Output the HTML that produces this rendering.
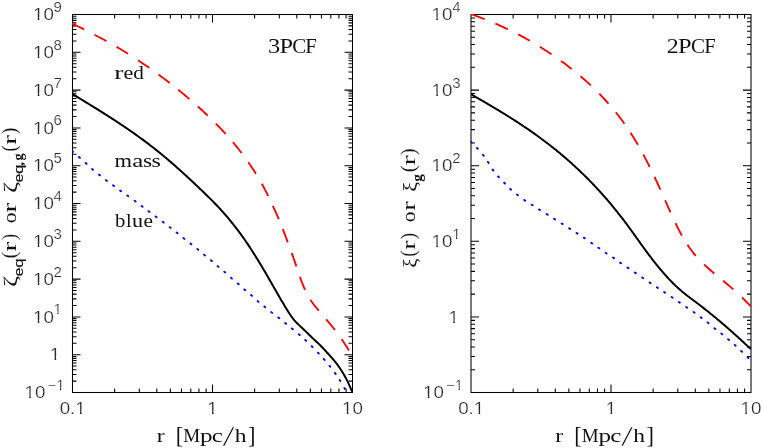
<!DOCTYPE html>
<html><head><meta charset="utf-8"><title>3PCF and 2PCF</title>
<style>html,body{margin:0;padding:0;background:#fff;}svg{display:block;will-change:transform;}text{font-kerning:none;}</style></head>
<body>
<svg width="763" height="448" viewBox="0 0 763 448">
<defs>
<clipPath id="cl"><rect x="72" y="14" width="281" height="379"/></clipPath>
<clipPath id="cr"><rect x="470.5" y="14" width="281" height="379"/></clipPath>
</defs>
<rect width="763" height="448" fill="#fff"/>
<g stroke="#000" stroke-width="1.05" fill="none" stroke-linecap="butt">
<rect x="72.5" y="14.5" width="280" height="378"/>
<path d="M114.64 392.5v-4M114.64 14.5v4M139.3 392.5v-4M139.3 14.5v4M156.79 392.5v-4M156.79 14.5v4M170.36 392.5v-4M170.36 14.5v4M181.44 392.5v-4M181.44 14.5v4M190.81 392.5v-4M190.81 14.5v4M198.93 392.5v-4M198.93 14.5v4M206.09 392.5v-4M206.09 14.5v4M212.5 392.5v-8M212.5 14.5v8M254.64 392.5v-4M254.64 14.5v4M279.3 392.5v-4M279.3 14.5v4M296.79 392.5v-4M296.79 14.5v4M310.36 392.5v-4M310.36 14.5v4M321.44 392.5v-4M321.44 14.5v4M330.81 392.5v-4M330.81 14.5v4M338.93 392.5v-4M338.93 14.5v4M346.09 392.5v-4M346.09 14.5v4M72.5 381.12h4M352.5 381.12h-4M72.5 374.46h4M352.5 374.46h-4M72.5 369.74h4M352.5 369.74h-4M72.5 366.08h4M352.5 366.08h-4M72.5 363.09h4M352.5 363.09h-4M72.5 360.56h4M352.5 360.56h-4M72.5 358.36h4M352.5 358.36h-4M72.5 356.43h4M352.5 356.43h-4M72.5 354.7h8M352.5 354.7h-8M72.5 343.32h4M352.5 343.32h-4M72.5 336.66h4M352.5 336.66h-4M72.5 331.94h4M352.5 331.94h-4M72.5 328.28h4M352.5 328.28h-4M72.5 325.29h4M352.5 325.29h-4M72.5 322.76h4M352.5 322.76h-4M72.5 320.56h4M352.5 320.56h-4M72.5 318.63h4M352.5 318.63h-4M72.5 316.9h8M352.5 316.9h-8M72.5 305.52h4M352.5 305.52h-4M72.5 298.86h4M352.5 298.86h-4M72.5 294.14h4M352.5 294.14h-4M72.5 290.48h4M352.5 290.48h-4M72.5 287.49h4M352.5 287.49h-4M72.5 284.96h4M352.5 284.96h-4M72.5 282.76h4M352.5 282.76h-4M72.5 280.83h4M352.5 280.83h-4M72.5 279.1h8M352.5 279.1h-8M72.5 267.72h4M352.5 267.72h-4M72.5 261.06h4M352.5 261.06h-4M72.5 256.34h4M352.5 256.34h-4M72.5 252.68h4M352.5 252.68h-4M72.5 249.69h4M352.5 249.69h-4M72.5 247.16h4M352.5 247.16h-4M72.5 244.96h4M352.5 244.96h-4M72.5 243.03h4M352.5 243.03h-4M72.5 241.3h8M352.5 241.3h-8M72.5 229.92h4M352.5 229.92h-4M72.5 223.26h4M352.5 223.26h-4M72.5 218.54h4M352.5 218.54h-4M72.5 214.88h4M352.5 214.88h-4M72.5 211.89h4M352.5 211.89h-4M72.5 209.36h4M352.5 209.36h-4M72.5 207.16h4M352.5 207.16h-4M72.5 205.23h4M352.5 205.23h-4M72.5 203.5h8M352.5 203.5h-8M72.5 192.12h4M352.5 192.12h-4M72.5 185.46h4M352.5 185.46h-4M72.5 180.74h4M352.5 180.74h-4M72.5 177.08h4M352.5 177.08h-4M72.5 174.09h4M352.5 174.09h-4M72.5 171.56h4M352.5 171.56h-4M72.5 169.36h4M352.5 169.36h-4M72.5 167.43h4M352.5 167.43h-4M72.5 165.7h8M352.5 165.7h-8M72.5 154.32h4M352.5 154.32h-4M72.5 147.66h4M352.5 147.66h-4M72.5 142.94h4M352.5 142.94h-4M72.5 139.28h4M352.5 139.28h-4M72.5 136.29h4M352.5 136.29h-4M72.5 133.76h4M352.5 133.76h-4M72.5 131.56h4M352.5 131.56h-4M72.5 129.63h4M352.5 129.63h-4M72.5 127.9h8M352.5 127.9h-8M72.5 116.52h4M352.5 116.52h-4M72.5 109.86h4M352.5 109.86h-4M72.5 105.14h4M352.5 105.14h-4M72.5 101.48h4M352.5 101.48h-4M72.5 98.49h4M352.5 98.49h-4M72.5 95.96h4M352.5 95.96h-4M72.5 93.76h4M352.5 93.76h-4M72.5 91.83h4M352.5 91.83h-4M72.5 90.1h8M352.5 90.1h-8M72.5 78.72h4M352.5 78.72h-4M72.5 72.06h4M352.5 72.06h-4M72.5 67.34h4M352.5 67.34h-4M72.5 63.68h4M352.5 63.68h-4M72.5 60.69h4M352.5 60.69h-4M72.5 58.16h4M352.5 58.16h-4M72.5 55.96h4M352.5 55.96h-4M72.5 54.03h4M352.5 54.03h-4M72.5 52.3h8M352.5 52.3h-8M72.5 40.92h4M352.5 40.92h-4M72.5 34.26h4M352.5 34.26h-4M72.5 29.54h4M352.5 29.54h-4M72.5 25.88h4M352.5 25.88h-4M72.5 22.89h4M352.5 22.89h-4M72.5 20.36h4M352.5 20.36h-4M72.5 18.16h4M352.5 18.16h-4M72.5 16.23h4M352.5 16.23h-4"/>
</g>
<g stroke="#000" stroke-width="1.05" fill="none" stroke-linecap="butt">
<rect x="471" y="14.5" width="280" height="378"/>
<path d="M513.14 392.5v-4M513.14 14.5v4M537.8 392.5v-4M537.8 14.5v4M555.29 392.5v-4M555.29 14.5v4M568.86 392.5v-4M568.86 14.5v4M579.94 392.5v-4M579.94 14.5v4M589.31 392.5v-4M589.31 14.5v4M597.43 392.5v-4M597.43 14.5v4M604.59 392.5v-4M604.59 14.5v4M611 392.5v-8M611 14.5v8M653.14 392.5v-4M653.14 14.5v4M677.8 392.5v-4M677.8 14.5v4M695.29 392.5v-4M695.29 14.5v4M708.86 392.5v-4M708.86 14.5v4M719.94 392.5v-4M719.94 14.5v4M729.31 392.5v-4M729.31 14.5v4M737.43 392.5v-4M737.43 14.5v4M744.59 392.5v-4M744.59 14.5v4M471 369.74h4M751 369.74h-4M471 356.43h4M751 356.43h-4M471 346.98h4M751 346.98h-4M471 339.66h4M751 339.66h-4M471 333.67h4M751 333.67h-4M471 328.61h4M751 328.61h-4M471 324.23h4M751 324.23h-4M471 320.36h4M751 320.36h-4M471 316.9h8M751 316.9h-8M471 294.14h4M751 294.14h-4M471 280.83h4M751 280.83h-4M471 271.38h4M751 271.38h-4M471 264.06h4M751 264.06h-4M471 258.07h4M751 258.07h-4M471 253.01h4M751 253.01h-4M471 248.63h4M751 248.63h-4M471 244.76h4M751 244.76h-4M471 241.3h8M751 241.3h-8M471 218.54h4M751 218.54h-4M471 205.23h4M751 205.23h-4M471 195.78h4M751 195.78h-4M471 188.46h4M751 188.46h-4M471 182.47h4M751 182.47h-4M471 177.41h4M751 177.41h-4M471 173.03h4M751 173.03h-4M471 169.16h4M751 169.16h-4M471 165.7h8M751 165.7h-8M471 142.94h4M751 142.94h-4M471 129.63h4M751 129.63h-4M471 120.18h4M751 120.18h-4M471 112.86h4M751 112.86h-4M471 106.87h4M751 106.87h-4M471 101.81h4M751 101.81h-4M471 97.43h4M751 97.43h-4M471 93.56h4M751 93.56h-4M471 90.1h8M751 90.1h-8M471 67.34h4M751 67.34h-4M471 54.03h4M751 54.03h-4M471 44.58h4M751 44.58h-4M471 37.26h4M751 37.26h-4M471 31.27h4M751 31.27h-4M471 26.21h4M751 26.21h-4M471 21.83h4M751 21.83h-4M471 17.96h4M751 17.96h-4"/>
</g>
<path d="M72.17 150.98L73.03 151.82M78.96 156.99L79.84 157.81M85.65 163L86.55 163.8M92.04 169.02L92.96 169.78M99.03 174.63L99.97 175.37M105.92 180.14L106.88 180.86M113.02 185.34L113.98 186.06M120.12 190.45L121.08 191.15M127.31 195.55L128.29 196.25M134.61 200.75L135.59 201.45M141.62 205.95L142.58 206.65M148.52 211.14L149.48 211.86M155.62 216.44L156.58 217.16M162.72 221.84L163.68 222.56M169.72 227.13L170.68 227.87M176.63 232.53L177.57 233.27M183.43 238.13L184.37 238.87M190.43 243.52L191.37 244.28M197.34 249.02L198.26 249.78M204.04 254.72L204.96 255.48M210.94 260.31L211.86 261.09M217.65 266.11L218.55 266.89M224.35 271.71L225.25 272.49M231.05 277.8L231.95 278.6M237.75 283.5L238.65 284.3M244.35 289.41L245.25 290.19M251.04 295.01L251.96 295.79M257.64 301.12L258.56 301.88M264.34 306.52L265.26 307.28M271.23 312.12L272.17 312.88M278.33 317.42L279.27 318.18M285.13 323.02L286.07 323.78M291.94 328.42L292.86 329.18M298.74 334.31L299.66 335.09M305.26 340L306.14 340.8M311.67 346.18L312.53 347.02M317.99 352.66L318.81 353.54M323.81 359.05L324.59 359.95M329.53 365.73L330.27 366.67M334.95 372.91L335.65 373.89M339.68 379.99L340.32 381.01M344.4 387.98L345 389.02" fill="none" stroke="#00f" stroke-width="1.9" stroke-linecap="round" clip-path="url(#cl)"/>
<path d="M72 23.41L74.42 24.6L76.84 25.79L79.26 26.99L81.68 28.2L84.1 29.41M94.5 34.73L96.88 35.98L99.26 37.24L101.64 38.51L104.02 39.8L106.4 41.1M116.6 46.87L118.88 48.2L121.16 49.55L123.44 50.92L125.72 52.31L128 53.73M138 60.16L140.24 61.65L142.48 63.17L144.72 64.7L146.96 66.25L149.2 67.82M158.5 74.54L160.74 76.2L162.98 77.88L165.22 79.58L167.46 81.29L169.7 83.03M178.2 89.76L180.42 91.56L182.64 93.38L184.86 95.23L187.08 97.1L189.3 98.99M197.8 106.45L199.78 108.24L201.76 110.05L203.74 111.89L205.72 113.75L207.7 115.64M215.8 123.6L217.78 125.61L219.76 127.66L221.74 129.73L223.72 131.84L225.7 133.99M232.9 142.17L234.64 144.25L236.38 146.37L238.12 148.53L239.86 150.73L241.6 152.99M248.4 162.3L249.9 164.47L251.4 166.68L252.9 168.95L254.4 171.28L255.9 173.66M261.8 183.7L263.08 186.04L264.36 188.44L265.64 190.9L266.92 193.43L268.2 196.03M272.8 205.8L274 208.38L275.2 210.97L276.4 213.6L277.6 216.29L278.8 219.07M282.8 229.04L283.8 231.66L284.8 234.31L285.8 236.99L286.8 239.68L287.8 242.38M291.7 252.98L292.64 255.58L293.58 258.22L294.52 260.89L295.46 263.61L296.4 266.38M299.9 276.81L300.94 279.73L301.98 282.51L303.02 285.15L304.06 287.63L305.1 289.97M310.4 299.7L312.08 302.19L313.76 304.48L315.44 306.61L317.12 308.64L318.8 310.61M326.2 319.29L327.94 321.36L329.68 323.47L331.42 325.61L333.16 327.79L334.9 330.02M341.6 339.15L343.06 341.29L344.52 343.48L345.98 345.73L347.44 348.04L348.9 350.43" fill="none" stroke="#f00" stroke-width="1.85" stroke-linecap="butt" clip-path="url(#cl)"/>
<path d="M72.4 94L73.4 94.61L74.4 95.22L75.4 95.83L76.4 96.44L77.4 97.05L78.4 97.65L79.4 98.26L80.4 98.87L81.4 99.48L82.4 100.09L83.4 100.7L84.4 101.31L85.4 101.92L86.4 102.53L87.4 103.14L88.4 103.76L89.4 104.37L90.4 104.98L91.4 105.6L92.4 106.21L93.4 106.83L94.4 107.45L95.4 108.07L96.4 108.69L97.4 109.31L98.4 109.93L99.4 110.55L100.4 111.18L101.4 111.8L102.4 112.43L103.4 113.06L104.4 113.69L105.4 114.32L106.4 114.96L107.4 115.6L108.4 116.23L109.4 116.87L110.4 117.51L111.4 118.16L112.4 118.8L113.4 119.45L114.4 120.1L115.4 120.75L116.4 121.41L117.4 122.07L118.4 122.73L119.4 123.39L120.4 124.05L121.4 124.72L122.4 125.39L123.4 126.06L124.4 126.74L125.4 127.41L126.4 128.09L127.4 128.78L128.4 129.46L129.4 130.15L130.4 130.85L131.4 131.54L132.4 132.24L133.4 132.94L134.4 133.65L135.4 134.36L136.4 135.07L137.4 135.79L138.4 136.51L139.4 137.23L140.4 137.96L141.4 138.69L142.4 139.42L143.4 140.16L144.4 140.91L145.4 141.65L146.4 142.4L147.4 143.16L148.4 143.92L149.4 144.68L150.4 145.45L151.4 146.22L152.4 146.99L153.4 147.77L154.4 148.56L155.4 149.35L156.4 150.14L157.4 150.94L158.4 151.75L159.4 152.55L160.4 153.37L161.4 154.19L162.4 155.01L163.4 155.84L164.4 156.67L165.4 157.51L166.4 158.35L167.4 159.19L168.4 160.04L169.4 160.9L170.4 161.76L171.4 162.62L172.4 163.49L173.4 164.36L174.4 165.24L175.4 166.11L176.4 167L177.4 167.89L178.4 168.78L179.4 169.67L180.4 170.57L181.4 171.47L182.4 172.38L183.4 173.28L184.4 174.2L185.4 175.11L186.4 176.03L187.4 176.95L188.4 177.87L189.4 178.8L190.4 179.73L191.4 180.67L192.4 181.6L193.4 182.54L194.4 183.48L195.4 184.42L196.4 185.37L197.4 186.32L198.4 187.27L199.4 188.22L200.4 189.18L201.4 190.13L202.4 191.09L203.4 192.06L204.4 193.02L205.4 193.99L206.4 194.96L207.4 195.94L208.4 196.92L209.4 197.91L210.4 198.9L211.4 199.9L212.4 200.9L213.4 201.92L214.4 202.94L215.4 203.97L216.4 205.01L217.4 206.06L218.4 207.12L219.4 208.19L220.4 209.27L221.4 210.37L222.4 211.47L223.4 212.59L224.4 213.72L225.4 214.87L226.4 216.02L227.4 217.19L228.4 218.38L229.4 219.57L230.4 220.79L231.4 222.01L232.4 223.25L233.4 224.5L234.4 225.77L235.4 227.06L236.4 228.35L237.4 229.67L238.4 231L239.4 232.34L240.4 233.7L241.4 235.08L242.4 236.47L243.4 237.87L244.4 239.3L245.4 240.74L246.4 242.2L247.4 243.67L248.4 245.16L249.4 246.67L250.4 248.19L251.4 249.72L252.4 251.27L253.4 252.84L254.4 254.42L255.4 256.01L256.4 257.62L257.4 259.23L258.4 260.86L259.4 262.5L260.4 264.16L261.4 265.82L262.4 267.49L263.4 269.18L264.4 270.87L265.4 272.57L266.4 274.28L267.4 276L268.4 277.73L269.4 279.46L270.4 281.2L271.4 282.95L272.4 284.69L273.4 286.44L274.4 288.2L275.4 289.95L276.4 291.7L277.4 293.45L278.4 295.19L279.4 296.93L280.4 298.66L281.4 300.38L282.4 302.09L283.4 303.79L284.4 305.47L285.4 307.14L286.4 308.78L287.4 310.4L288.4 311.98L289.4 313.52L290.4 315.02L291.4 316.47L292.4 317.86L293.4 319.17L294.4 320.4L295.4 321.5L296.4 322.52L297.4 323.48L298.4 324.44L299.4 325.4L300.4 326.35L301.4 327.31L302.4 328.27L303.4 329.23L304.4 330.19L305.4 331.15L306.4 332.12L307.4 333.09L308.4 334.06L309.4 335.03L310.4 336L311.4 336.96L312.4 337.92L313.4 338.88L314.4 339.82L315.4 340.75L316.4 341.67L317.4 342.6L318.4 343.54L319.4 344.51L320.4 345.51L321.4 346.53L322.4 347.56L323.4 348.62L324.4 349.69L325.4 350.77L326.4 351.86L327.4 352.95L328.4 354.04L329.4 355.13L330.4 356.24L331.4 357.36L332.4 358.5L333.4 359.66L334.4 360.86L335.4 362.11L336.4 363.39L337.4 364.72L338.4 366.09L339.4 367.5L340.4 368.97L341.4 370.49L342.4 372.07L343.4 373.72L344.4 375.44L345.4 377.24L346.4 379.13L347.4 381.11L348.4 383.18L349.4 385.32L350.4 387.54L351.4 389.82L352.15 391.56" fill="none" stroke="#000" stroke-width="2" stroke-linejoin="round" clip-path="url(#cl)"/>
<path d="M470.84 141.62L471.76 142.38M477 147.95L477.8 148.85M483.05 154.82L483.75 155.78M487.97 161.9L488.63 162.9M492.65 169.61L493.35 170.59M498.11 176.44L498.89 177.36M504.18 182.77L505.02 183.63M510.15 188.9L511.05 189.7M516.92 194.53L517.88 195.27M524.2 199.96L525.2 200.64M531.69 204.68L532.71 205.32M538.99 209.38L540.01 210.02M546.69 214.09L547.71 214.71M553.99 218.79L555.01 219.41M561.69 223.48L562.71 224.12M569.1 228.28L570.1 228.92M576.5 232.97L577.5 233.63M583.8 237.66L584.8 238.34M591.2 242.76L592.2 243.44M598.31 247.66L599.29 248.34M605.6 252.76L606.6 253.44M613 257.46L614 258.14M620.1 262.66L621.1 263.34M627.5 267.47L628.5 268.13M634.8 272.47L635.8 273.13M642.2 277.57L643.2 278.23M649.6 282.47L650.6 283.13M656.9 287.27L657.9 287.93M664.1 292.06L665.1 292.74M671.6 297.06L672.6 297.74M678.8 301.96L679.8 302.64M686.21 307.06L687.19 307.74M693.61 312.05L694.59 312.75M700.72 317.35L701.68 318.05M707.62 322.44L708.58 323.16M714.43 328.23L715.37 328.97M721.34 333.51L722.26 334.29M728.05 339.31L728.95 340.09M734.76 344.9L735.64 345.7M741.16 350.99L742.04 351.81M747.57 357.28L748.43 358.12" fill="none" stroke="#00f" stroke-width="1.9" stroke-linecap="round" clip-path="url(#cr)"/>
<path d="M471.3 14.23L473.98 15.19L476.66 16.17L479.34 17.17L482.02 18.19L484.7 19.24M495.4 23.65L497.88 24.72L500.36 25.82L502.84 26.95L505.32 28.09L507.8 29.26M518.2 34.44L520.52 35.65L522.84 36.89L525.16 38.15L527.48 39.44L529.8 40.75M539.9 46.74L542.22 48.19L544.54 49.66L546.86 51.16L549.18 52.69L551.5 54.24M561 60.91L563.16 62.49L565.32 64.1L567.48 65.73L569.64 67.4L571.8 69.09M580.5 76.19L582.56 77.95L584.62 79.74L586.68 81.57L588.74 83.44L590.8 85.34M599.3 93.67L601.14 95.57L602.98 97.52L604.82 99.5L606.66 101.53L608.5 103.6M615.8 112.29L617.52 114.46L619.24 116.68L620.96 118.96L622.68 121.29L624.4 123.68M630.5 132.68L631.98 134.99L633.46 137.35L634.94 139.77L636.42 142.25L637.9 144.78M643.3 154.52L644.58 156.93L645.86 159.39L647.14 161.88L648.42 164.41L649.7 166.97M654.5 176.9L655.68 179.41L656.86 181.95L658.04 184.51L659.22 187.09L660.4 189.7M665.1 200.26L666.18 202.7L667.26 205.14L668.34 207.57L669.42 209.99L670.5 212.39M675.5 223.16L676.78 225.79L678.06 228.37L679.34 230.87L680.62 233.29L681.9 235.63M687.5 244.82L689.16 247.25L690.82 249.55L692.48 251.75L694.14 253.83L695.8 255.82M704.1 264.51L706.14 266.41L708.18 268.23L710.22 270.01L712.26 271.74L714.3 273.45M723.2 280.81L725.22 282.49L727.24 284.18L729.26 285.9L731.28 287.63L733.3 289.39M742 297.4L743.8 299.17L745.6 300.98L747.4 302.83L749.2 304.74L751 306.7" fill="none" stroke="#f00" stroke-width="1.85" stroke-linecap="butt" clip-path="url(#cr)"/>
<path d="M471.3 94.4L472.3 94.97L473.3 95.55L474.3 96.13L475.3 96.7L476.3 97.28L477.3 97.86L478.3 98.44L479.3 99.01L480.3 99.59L481.3 100.17L482.3 100.76L483.3 101.34L484.3 101.92L485.3 102.51L486.3 103.09L487.3 103.68L488.3 104.27L489.3 104.85L490.3 105.44L491.3 106.04L492.3 106.63L493.3 107.22L494.3 107.82L495.3 108.42L496.3 109.02L497.3 109.62L498.3 110.22L499.3 110.83L500.3 111.43L501.3 112.04L502.3 112.65L503.3 113.27L504.3 113.88L505.3 114.5L506.3 115.12L507.3 115.74L508.3 116.36L509.3 116.99L510.3 117.62L511.3 118.25L512.3 118.89L513.3 119.52L514.3 120.16L515.3 120.8L516.3 121.45L517.3 122.1L518.3 122.75L519.3 123.4L520.3 124.06L521.3 124.72L522.3 125.39L523.3 126.05L524.3 126.72L525.3 127.4L526.3 128.08L527.3 128.76L528.3 129.44L529.3 130.13L530.3 130.82L531.3 131.52L532.3 132.22L533.3 132.92L534.3 133.63L535.3 134.34L536.3 135.05L537.3 135.77L538.3 136.5L539.3 137.23L540.3 137.96L541.3 138.69L542.3 139.43L543.3 140.18L544.3 140.93L545.3 141.68L546.3 142.44L547.3 143.21L548.3 143.98L549.3 144.75L550.3 145.53L551.3 146.31L552.3 147.1L553.3 147.89L554.3 148.69L555.3 149.5L556.3 150.3L557.3 151.12L558.3 151.94L559.3 152.76L560.3 153.59L561.3 154.43L562.3 155.27L563.3 156.12L564.3 156.97L565.3 157.83L566.3 158.7L567.3 159.57L568.3 160.44L569.3 161.33L570.3 162.21L571.3 163.11L572.3 164.01L573.3 164.92L574.3 165.83L575.3 166.75L576.3 167.68L577.3 168.61L578.3 169.55L579.3 170.5L580.3 171.45L581.3 172.41L582.3 173.37L583.3 174.35L584.3 175.33L585.3 176.31L586.3 177.31L587.3 178.31L588.3 179.32L589.3 180.33L590.3 181.36L591.3 182.39L592.3 183.42L593.3 184.47L594.3 185.52L595.3 186.58L596.3 187.65L597.3 188.73L598.3 189.81L599.3 190.9L600.3 192L601.3 193.11L602.3 194.22L603.3 195.35L604.3 196.48L605.3 197.62L606.3 198.77L607.3 199.93L608.3 201.1L609.3 202.27L610.3 203.46L611.3 204.65L612.3 205.85L613.3 207.06L614.3 208.28L615.3 209.51L616.3 210.75L617.3 212L618.3 213.26L619.3 214.53L620.3 215.81L621.3 217.09L622.3 218.39L623.3 219.7L624.3 221.01L625.3 222.34L626.3 223.68L627.3 225.02L628.3 226.38L629.3 227.75L630.3 229.12L631.3 230.5L632.3 231.89L633.3 233.29L634.3 234.68L635.3 236.08L636.3 237.48L637.3 238.89L638.3 240.29L639.3 241.69L640.3 243.08L641.3 244.48L642.3 245.87L643.3 247.25L644.3 248.63L645.3 249.99L646.3 251.35L647.3 252.7L648.3 254.04L649.3 255.37L650.3 256.69L651.3 258L652.3 259.29L653.3 260.58L654.3 261.86L655.3 263.12L656.3 264.37L657.3 265.61L658.3 266.83L659.3 268.04L660.3 269.24L661.3 270.43L662.3 271.6L663.3 272.76L664.3 273.9L665.3 275.03L666.3 276.14L667.3 277.24L668.3 278.32L669.3 279.39L670.3 280.44L671.3 281.47L672.3 282.49L673.3 283.49L674.3 284.47L675.3 285.44L676.3 286.39L677.3 287.32L678.3 288.23L679.3 289.12L680.3 289.99L681.3 290.85L682.3 291.69L683.3 292.51L684.3 293.32L685.3 294.12L686.3 294.91L687.3 295.69L688.3 296.46L689.3 297.22L690.3 297.98L691.3 298.73L692.3 299.48L693.3 300.23L694.3 300.98L695.3 301.73L696.3 302.48L697.3 303.24L698.3 304L699.3 304.76L700.3 305.53L701.3 306.3L702.3 307.08L703.3 307.86L704.3 308.64L705.3 309.43L706.3 310.22L707.3 311.02L708.3 311.81L709.3 312.62L710.3 313.42L711.3 314.23L712.3 315.05L713.3 315.87L714.3 316.69L715.3 317.51L716.3 318.34L717.3 319.17L718.3 320.01L719.3 320.85L720.3 321.69L721.3 322.54L722.3 323.39L723.3 324.25L724.3 325.1L725.3 325.97L726.3 326.83L727.3 327.7L728.3 328.57L729.3 329.45L730.3 330.33L731.3 331.21L732.3 332.1L733.3 332.99L734.3 333.88L735.3 334.78L736.3 335.68L737.3 336.58L738.3 337.49L739.3 338.4L740.3 339.31L741.3 340.23L742.3 341.15L743.3 342.08L744.3 343L745.3 343.93L746.3 344.87L747.3 345.81L748.3 346.75L749.3 347.69L750.3 348.64L750.8 349.11" fill="none" stroke="#000" stroke-width="2" stroke-linejoin="round" clip-path="url(#cr)"/>
<text transform="translate(47.4 389.9) scale(1.090 1)" font-size="13.8" font-family="Liberation Sans, sans-serif" fill="#2b2b2b" clip-path="url(#k0)" stroke="#fff" stroke-width="0.22">−1</text>
<text transform="translate(24.48 398.2) scale(1.090 1)" font-size="17.2" font-family="Liberation Sans, sans-serif" fill="#2b2b2b" clip-path="url(#k1)" stroke="#fff" stroke-width="0.22">10</text>
<text transform="translate(49.83 360.4) scale(1.090 1)" font-size="17.2" font-family="Liberation Sans, sans-serif" fill="#2b2b2b" clip-path="url(#k2)" stroke="#fff" stroke-width="0.22">1</text>
<text transform="translate(53.6 314.3) scale(1.090 1)" font-size="13.8" font-family="Liberation Sans, sans-serif" fill="#2b2b2b" clip-path="url(#k3)" stroke="#fff" stroke-width="0.22">1</text>
<text transform="translate(32.98 322.6) scale(1.090 1)" font-size="17.2" font-family="Liberation Sans, sans-serif" fill="#2b2b2b" clip-path="url(#k1)" stroke="#fff" stroke-width="0.22">10</text>
<text transform="translate(53.6 276.5) scale(1.090 1)" font-size="13.8" font-family="Liberation Sans, sans-serif" fill="#2b2b2b" stroke="#fff" stroke-width="0.22">2</text>
<text transform="translate(32.98 284.8) scale(1.090 1)" font-size="17.2" font-family="Liberation Sans, sans-serif" fill="#2b2b2b" clip-path="url(#k1)" stroke="#fff" stroke-width="0.22">10</text>
<text transform="translate(53.6 238.7) scale(1.090 1)" font-size="13.8" font-family="Liberation Sans, sans-serif" fill="#2b2b2b" stroke="#fff" stroke-width="0.22">3</text>
<text transform="translate(32.98 247) scale(1.090 1)" font-size="17.2" font-family="Liberation Sans, sans-serif" fill="#2b2b2b" clip-path="url(#k1)" stroke="#fff" stroke-width="0.22">10</text>
<text transform="translate(53.6 200.9) scale(1.090 1)" font-size="13.8" font-family="Liberation Sans, sans-serif" fill="#2b2b2b" stroke="#fff" stroke-width="0.22">4</text>
<text transform="translate(32.98 209.2) scale(1.090 1)" font-size="17.2" font-family="Liberation Sans, sans-serif" fill="#2b2b2b" clip-path="url(#k1)" stroke="#fff" stroke-width="0.22">10</text>
<text transform="translate(53.6 163.1) scale(1.090 1)" font-size="13.8" font-family="Liberation Sans, sans-serif" fill="#2b2b2b" stroke="#fff" stroke-width="0.22">5</text>
<text transform="translate(32.98 171.4) scale(1.090 1)" font-size="17.2" font-family="Liberation Sans, sans-serif" fill="#2b2b2b" clip-path="url(#k1)" stroke="#fff" stroke-width="0.22">10</text>
<text transform="translate(53.6 125.3) scale(1.090 1)" font-size="13.8" font-family="Liberation Sans, sans-serif" fill="#2b2b2b" stroke="#fff" stroke-width="0.22">6</text>
<text transform="translate(32.98 133.6) scale(1.090 1)" font-size="17.2" font-family="Liberation Sans, sans-serif" fill="#2b2b2b" clip-path="url(#k1)" stroke="#fff" stroke-width="0.22">10</text>
<text transform="translate(53.6 87.5) scale(1.090 1)" font-size="13.8" font-family="Liberation Sans, sans-serif" fill="#2b2b2b" stroke="#fff" stroke-width="0.22">7</text>
<text transform="translate(32.98 95.8) scale(1.090 1)" font-size="17.2" font-family="Liberation Sans, sans-serif" fill="#2b2b2b" clip-path="url(#k1)" stroke="#fff" stroke-width="0.22">10</text>
<text transform="translate(53.6 49.7) scale(1.090 1)" font-size="13.8" font-family="Liberation Sans, sans-serif" fill="#2b2b2b" stroke="#fff" stroke-width="0.22">8</text>
<text transform="translate(32.98 58) scale(1.090 1)" font-size="17.2" font-family="Liberation Sans, sans-serif" fill="#2b2b2b" clip-path="url(#k1)" stroke="#fff" stroke-width="0.22">10</text>
<text transform="translate(53.6 11.9) scale(1.090 1)" font-size="13.8" font-family="Liberation Sans, sans-serif" fill="#2b2b2b" stroke="#fff" stroke-width="0.22">9</text>
<text transform="translate(32.98 20.2) scale(1.090 1)" font-size="17.2" font-family="Liberation Sans, sans-serif" fill="#2b2b2b" clip-path="url(#k1)" stroke="#fff" stroke-width="0.22">10</text>
<text transform="translate(446 389.9) scale(1.090 1)" font-size="13.8" font-family="Liberation Sans, sans-serif" fill="#2b2b2b" clip-path="url(#k0)" stroke="#fff" stroke-width="0.22">−1</text>
<text transform="translate(423.08 398.2) scale(1.090 1)" font-size="17.2" font-family="Liberation Sans, sans-serif" fill="#2b2b2b" clip-path="url(#k1)" stroke="#fff" stroke-width="0.22">10</text>
<text transform="translate(448.43 322.6) scale(1.090 1)" font-size="17.2" font-family="Liberation Sans, sans-serif" fill="#2b2b2b" clip-path="url(#k2)" stroke="#fff" stroke-width="0.22">1</text>
<text transform="translate(452.2 238.7) scale(1.090 1)" font-size="13.8" font-family="Liberation Sans, sans-serif" fill="#2b2b2b" clip-path="url(#k3)" stroke="#fff" stroke-width="0.22">1</text>
<text transform="translate(431.58 247) scale(1.090 1)" font-size="17.2" font-family="Liberation Sans, sans-serif" fill="#2b2b2b" clip-path="url(#k1)" stroke="#fff" stroke-width="0.22">10</text>
<text transform="translate(452.2 163.1) scale(1.090 1)" font-size="13.8" font-family="Liberation Sans, sans-serif" fill="#2b2b2b" stroke="#fff" stroke-width="0.22">2</text>
<text transform="translate(431.58 171.4) scale(1.090 1)" font-size="17.2" font-family="Liberation Sans, sans-serif" fill="#2b2b2b" clip-path="url(#k1)" stroke="#fff" stroke-width="0.22">10</text>
<text transform="translate(452.2 87.5) scale(1.090 1)" font-size="13.8" font-family="Liberation Sans, sans-serif" fill="#2b2b2b" stroke="#fff" stroke-width="0.22">3</text>
<text transform="translate(431.58 95.8) scale(1.090 1)" font-size="17.2" font-family="Liberation Sans, sans-serif" fill="#2b2b2b" clip-path="url(#k1)" stroke="#fff" stroke-width="0.22">10</text>
<text transform="translate(452.2 11.9) scale(1.090 1)" font-size="13.8" font-family="Liberation Sans, sans-serif" fill="#2b2b2b" stroke="#fff" stroke-width="0.22">4</text>
<text transform="translate(431.58 20.2) scale(1.090 1)" font-size="17.2" font-family="Liberation Sans, sans-serif" fill="#2b2b2b" clip-path="url(#k1)" stroke="#fff" stroke-width="0.22">10</text>
<text transform="translate(59.69 413.9) scale(1.090 1)" font-size="17.2" font-family="Liberation Sans, sans-serif" fill="#2b2b2b" clip-path="url(#k4)" stroke="#fff" stroke-width="0.22">0.1</text>
<text transform="translate(207.33 413.9) scale(1.090 1)" font-size="17.2" font-family="Liberation Sans, sans-serif" fill="#2b2b2b" clip-path="url(#k2)" stroke="#fff" stroke-width="0.22">1</text>
<text transform="translate(342.08 413.9) scale(1.090 1)" font-size="17.2" font-family="Liberation Sans, sans-serif" fill="#2b2b2b" clip-path="url(#k1)" stroke="#fff" stroke-width="0.22">10</text>
<text transform="translate(458.19 413.9) scale(1.090 1)" font-size="17.2" font-family="Liberation Sans, sans-serif" fill="#2b2b2b" clip-path="url(#k4)" stroke="#fff" stroke-width="0.22">0.1</text>
<text transform="translate(605.83 413.9) scale(1.090 1)" font-size="17.2" font-family="Liberation Sans, sans-serif" fill="#2b2b2b" clip-path="url(#k2)" stroke="#fff" stroke-width="0.22">1</text>
<text transform="translate(740.58 413.9) scale(1.090 1)" font-size="17.2" font-family="Liberation Sans, sans-serif" fill="#2b2b2b" clip-path="url(#k1)" stroke="#fff" stroke-width="0.22">10</text>
<text transform="translate(156.73 442.2) scale(1.201 1.000)" font-size="19.7" font-family="Liberation Serif, serif" fill="#111">r</text>
<text transform="translate(175.73 442.9) scale(0.960 1.000)" font-size="23.4" font-family="Liberation Serif, serif" fill="#111">[</text>
<text transform="translate(183.35 442.2) scale(0.965 1.000)" font-size="19.7" font-family="Liberation Serif, serif" fill="#111">M</text>
<text transform="translate(200.09 442.2) scale(1.278 1.000)" font-size="19.7" font-family="Liberation Serif, serif" fill="#111">p</text>
<text transform="translate(211.75 442.2) scale(1.272 1.000)" font-size="19.7" font-family="Liberation Serif, serif" fill="#111">c</text>
<text transform="translate(222.6 445.8) scale(1.489 1.000)" font-size="29" font-family="Liberation Serif, serif" fill="#111" stroke="#fff" stroke-width="0.4">/</text>
<text transform="translate(234.87 442.2) scale(1.192 1.000)" font-size="19.7" font-family="Liberation Serif, serif" fill="#111">h</text>
<text transform="translate(247.99 442.9) scale(0.960 1.000)" font-size="23.4" font-family="Liberation Serif, serif" fill="#111">]</text>
<text transform="translate(555.23 442.2) scale(1.201 1.000)" font-size="19.7" font-family="Liberation Serif, serif" fill="#111">r</text>
<text transform="translate(574.23 442.9) scale(0.960 1.000)" font-size="23.4" font-family="Liberation Serif, serif" fill="#111">[</text>
<text transform="translate(581.85 442.2) scale(0.965 1.000)" font-size="19.7" font-family="Liberation Serif, serif" fill="#111">M</text>
<text transform="translate(598.59 442.2) scale(1.278 1.000)" font-size="19.7" font-family="Liberation Serif, serif" fill="#111">p</text>
<text transform="translate(610.25 442.2) scale(1.272 1.000)" font-size="19.7" font-family="Liberation Serif, serif" fill="#111">c</text>
<text transform="translate(621.1 445.8) scale(1.489 1.000)" font-size="29" font-family="Liberation Serif, serif" fill="#111" stroke="#fff" stroke-width="0.4">/</text>
<text transform="translate(633.37 442.2) scale(1.192 1.000)" font-size="19.7" font-family="Liberation Serif, serif" fill="#111">h</text>
<text transform="translate(646.49 442.9) scale(0.960 1.000)" font-size="23.4" font-family="Liberation Serif, serif" fill="#111">]</text>
<text transform="translate(268.03 52.9) scale(1.187 1.000)" font-size="20.6" font-family="Liberation Serif, serif" fill="#111">3</text>
<text transform="translate(279.5 52.9) scale(1.185 1.000)" font-size="20.6" font-family="Liberation Serif, serif" fill="#111">P</text>
<text transform="translate(292.14 52.9) scale(1.021 1.000)" font-size="20.6" font-family="Liberation Serif, serif" fill="#111">C</text>
<text transform="translate(305.3 52.9) scale(1.008 1.000)" font-size="20.6" font-family="Liberation Serif, serif" fill="#111">F</text>
<text transform="translate(666.75 52.9) scale(1.162 1.000)" font-size="20.6" font-family="Liberation Serif, serif" fill="#111">2</text>
<text transform="translate(678.1 52.9) scale(1.185 1.000)" font-size="20.6" font-family="Liberation Serif, serif" fill="#111">P</text>
<text transform="translate(691.04 52.9) scale(1.021 1.000)" font-size="20.6" font-family="Liberation Serif, serif" fill="#111">C</text>
<text transform="translate(704.2 52.9) scale(1.008 1.000)" font-size="20.6" font-family="Liberation Serif, serif" fill="#111">F</text>
<text transform="translate(114.35 79.3) scale(1.423 1.000)" font-size="19.4" font-family="Liberation Serif, serif" fill="#111">r</text>
<text transform="translate(123.43 79.3) scale(1.142 1.000)" font-size="19.4" font-family="Liberation Serif, serif" fill="#111">e</text>
<text transform="translate(133.13 79.3) scale(1.096 1.000)" font-size="19.4" font-family="Liberation Serif, serif" fill="#111">d</text>
<text transform="translate(114.43 166.6) scale(1.161 1.000)" font-size="19.4" font-family="Liberation Serif, serif" fill="#111">m</text>
<text transform="translate(132.13 166.6) scale(1.279 1.000)" font-size="19.4" font-family="Liberation Serif, serif" fill="#111">a</text>
<text transform="translate(143.04 166.6) scale(1.206 1.000)" font-size="19.4" font-family="Liberation Serif, serif" fill="#111">s</text>
<text transform="translate(151.51 166.6) scale(1.239 1.000)" font-size="19.4" font-family="Liberation Serif, serif" fill="#111">s</text>
<text transform="translate(115.1 226.7) scale(1.071 1.000)" font-size="19.4" font-family="Liberation Serif, serif" fill="#111">b</text>
<text transform="translate(125.9 226.7) scale(1.040 1.000)" font-size="19.4" font-family="Liberation Serif, serif" fill="#111">l</text>
<text transform="translate(131.91 226.7) scale(1.141 1.000)" font-size="19.4" font-family="Liberation Serif, serif" fill="#111">u</text>
<text transform="translate(143.47 226.7) scale(1.100 1.000)" font-size="19.4" font-family="Liberation Serif, serif" fill="#111">e</text>
<g transform="translate(15.9 0) rotate(-90)">
<text transform="translate(-286.97 0.7) scale(1.399 1.000)" font-size="19.3" font-family="Liberation Serif, serif" fill="#111">ζ</text>
<text transform="translate(-276.16 7) scale(1.197 1.000)" font-size="13" font-family="Liberation Sans, sans-serif" fill="#111" stroke="#111" stroke-width="0.16">e</text>
<text transform="translate(-267.81 7) scale(1.299 1.000)" font-size="13" font-family="Liberation Sans, sans-serif" fill="#111" stroke="#111" stroke-width="0.16">q</text>
<text transform="translate(-258.42 -0.3) scale(0.992 1.000)" font-size="21.2" font-family="Liberation Serif, serif" fill="#111" stroke="#fff" stroke-width="0.15">(</text>
<text transform="translate(-251.39 0) scale(1.502 1.000)" font-size="19.7" font-family="Liberation Serif, serif" fill="#111">r</text>
<text transform="translate(-240.21 -0.3) scale(0.900 1.000)" font-size="21.2" font-family="Liberation Serif, serif" fill="#111" stroke="#fff" stroke-width="0.15">)</text>
<text transform="translate(-223.33 0) scale(1.102 1.000)" font-size="19.7" font-family="Liberation Serif, serif" fill="#111">o</text>
<text transform="translate(-212.59 0) scale(1.502 1.000)" font-size="19.7" font-family="Liberation Serif, serif" fill="#111">r</text>
<text transform="translate(-193.07 0.7) scale(1.399 1.000)" font-size="19.3" font-family="Liberation Serif, serif" fill="#111">ζ</text>
<text transform="translate(-182.26 7) scale(1.197 1.000)" font-size="13" font-family="Liberation Sans, sans-serif" fill="#111" stroke="#111" stroke-width="0.16">e</text>
<text transform="translate(-173.92 7) scale(1.316 1.000)" font-size="13" font-family="Liberation Sans, sans-serif" fill="#111" stroke="#111" stroke-width="0.16">q</text>
<text transform="translate(-166.91 7) scale(1.724 1.000)" font-size="13" font-family="Liberation Sans, sans-serif" fill="#111" stroke="#111" stroke-width="0.16">,</text>
<text transform="translate(-160.38 7.2) scale(1.016 1.000)" font-size="14" font-family="Liberation Serif, serif" font-weight="bold" fill="#111">g</text>
<text transform="translate(-151.79 -0.3) scale(0.955 1.000)" font-size="21.2" font-family="Liberation Serif, serif" fill="#111" stroke="#fff" stroke-width="0.15">(</text>
<text transform="translate(-144.79 0) scale(1.485 1.000)" font-size="19.7" font-family="Liberation Serif, serif" fill="#111">r</text>
<text transform="translate(-134.14 -0.3) scale(0.937 1.000)" font-size="21.2" font-family="Liberation Serif, serif" fill="#111" stroke="#fff" stroke-width="0.15">)</text>
</g>
<g transform="translate(415 0) rotate(-90)">
<text transform="translate(-267.48 0.5) scale(1.017 1.000)" font-size="19.7" font-family="Liberation Serif, serif" fill="#111">ξ</text>
<text transform="translate(-256.74 -0.3) scale(0.900 1.000)" font-size="21.2" font-family="Liberation Serif, serif" fill="#111" stroke="#fff" stroke-width="0.15">(</text>
<text transform="translate(-249.76 0) scale(1.418 1.000)" font-size="19.7" font-family="Liberation Serif, serif" fill="#111">r</text>
<text transform="translate(-239.4 -0.3) scale(0.946 1.000)" font-size="21.2" font-family="Liberation Serif, serif" fill="#111" stroke="#fff" stroke-width="0.15">)</text>
<text transform="translate(-222.13 0) scale(1.102 1.000)" font-size="19.7" font-family="Liberation Serif, serif" fill="#111">o</text>
<text transform="translate(-210.87 0) scale(1.452 1.000)" font-size="19.7" font-family="Liberation Serif, serif" fill="#111">r</text>
<text transform="translate(-191.77 0.5) scale(1.124 1.000)" font-size="19.7" font-family="Liberation Serif, serif" fill="#111">ξ</text>
<text transform="translate(-181.7 7.2) scale(1.093 1.000)" font-size="14" font-family="Liberation Serif, serif" font-weight="bold" fill="#111">g</text>
<text transform="translate(-172.16 -0.3) scale(1.028 1.000)" font-size="21.2" font-family="Liberation Serif, serif" fill="#111" stroke="#fff" stroke-width="0.15">(</text>
<text transform="translate(-165.51 0) scale(1.552 1.000)" font-size="19.7" font-family="Liberation Serif, serif" fill="#111">r</text>
<text transform="translate(-155.17 -0.3) scale(0.973 1.000)" font-size="21.2" font-family="Liberation Serif, serif" fill="#111" stroke="#fff" stroke-width="0.15">)</text>
</g>
<defs><clipPath id="k0"><path clip-rule="evenodd" d="M-10 -40H80V20H-10ZM8.47 -2.83H11.53V3H8.47ZM12.75 -2.83H15.51V3H12.75Z"/></clipPath><clipPath id="k1"><path clip-rule="evenodd" d="M-10 -40H80V20H-10ZM0.52 -3.08H4.33V3H0.52ZM5.84 -3.08H9.29V3H5.84Z"/></clipPath><clipPath id="k2"><path clip-rule="evenodd" d="M-10 -40H80V20H-10ZM0.52 -3.08H4.33V3H0.52ZM5.84 -3.08H9.29V3H5.84Z"/></clipPath><clipPath id="k3"><path clip-rule="evenodd" d="M-10 -40H80V20H-10ZM0.41 -2.83H3.47V3H0.41ZM4.69 -2.83H7.45V3H4.69Z"/></clipPath><clipPath id="k4"><path clip-rule="evenodd" d="M-10 -40H80V20H-10ZM14.86 -3.08H18.67V3H14.86ZM20.19 -3.08H23.63V3H20.19Z"/></clipPath></defs>
</svg>
</body></html>
